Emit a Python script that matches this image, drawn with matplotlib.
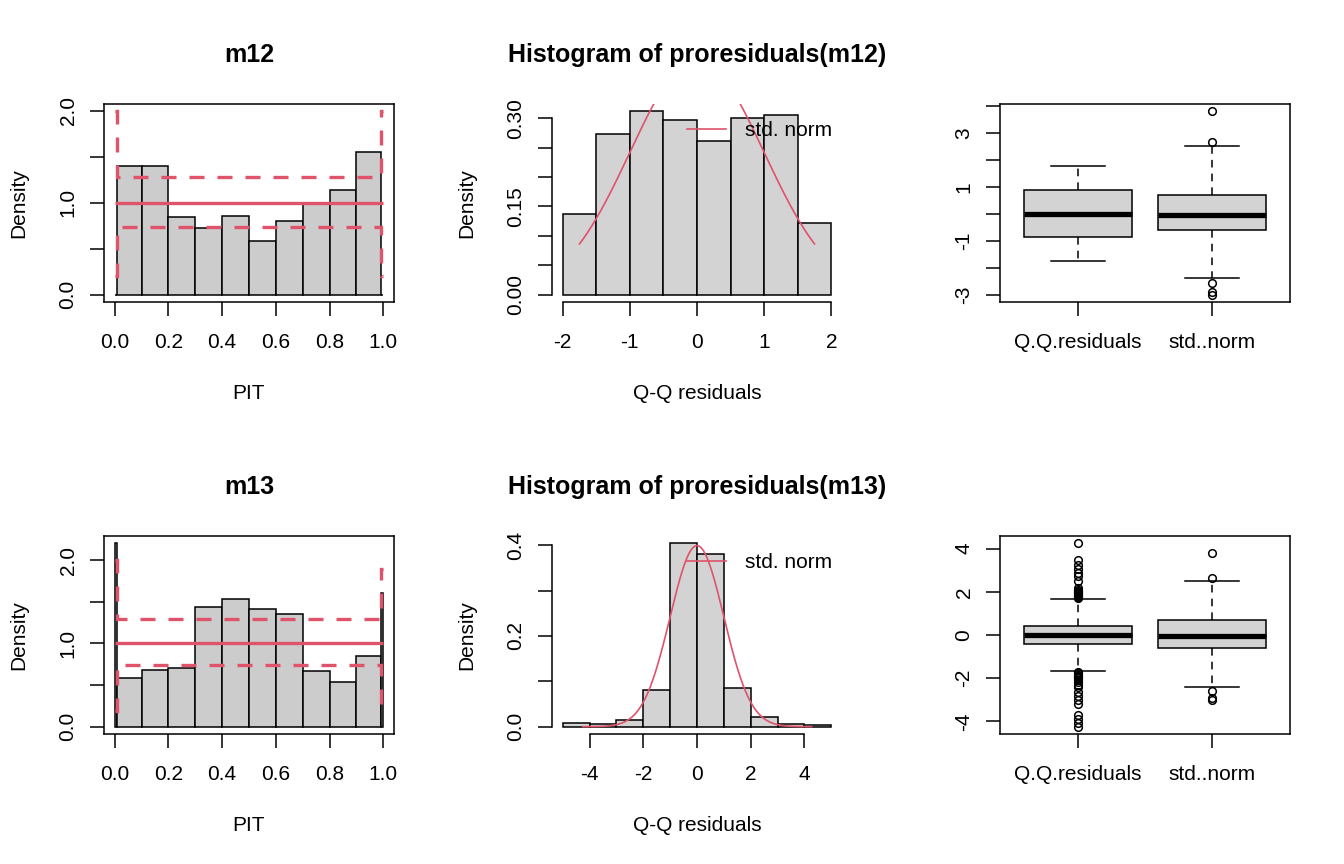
import numpy as np
import matplotlib
matplotlib.use('Agg')
from matplotlib import pyplot as plt
from matplotlib.lines import Line2D

plt.rcParams['font.family'] = ['Liberation Sans', 'DejaVu Sans']
plt.rcParams['axes.unicode_minus'] = False

RED = '#DF536B'

# PIT histograms (density per bin)
pit_breaks = [0.0, 0.01, 0.1, 0.2, 0.3, 0.4, 0.5, 0.6, 0.7, 0.8, 0.9, 0.99, 1.0]
m12_pit = [0.0, 1.40, 1.40, 0.84, 0.72, 0.86, 0.58, 0.80, 1.00, 1.14, 1.55, 0.0]
m12_ci_lo = [0.20, 0.74, 0.74, 0.74, 0.74, 0.74, 0.74, 0.74, 0.74, 0.74, 0.74, 0.20]
m12_ci_hi = [2.00, 1.28, 1.28, 1.28, 1.28, 1.28, 1.28, 1.28, 1.28, 1.28, 1.28, 2.00]
m13_pit = [2.21, 0.58, 0.68, 0.70, 1.44, 1.54, 1.42, 1.36, 0.665, 0.54, 0.85, 1.61]
m13_ci_lo = [0.19, 0.74, 0.74, 0.74, 0.74, 0.74, 0.74, 0.74, 0.74, 0.74, 0.74, 0.27]
m13_ci_hi = [2.00, 1.29, 1.29, 1.29, 1.29, 1.29, 1.29, 1.29, 1.29, 1.29, 1.29, 1.90]

# Q-Q residual histograms
m12_qq_breaks = [-2.0, -1.5, -1.0, -0.5, 0.0, 0.5, 1.0, 1.5, 2.0]
m12_qq_dens = [0.137, 0.273, 0.3125, 0.297, 0.261, 0.300, 0.305, 0.121]
m12_qq_range = (-1.75, 1.75)
m13_qq_breaks = [-5, -4, -3, -2, -1, 0, 1, 2, 3, 4, 5]
m13_qq_dens = [0.008, 0.006, 0.015, 0.081, 0.405, 0.380, 0.085, 0.021, 0.006, 0.003]
m13_qq_range = (-4.25, 4.27)

# boxplot summaries
box_names = ['Q.Q.residuals', 'std..norm']
norm_stats = dict(med=-0.03, q1=-0.61, q3=0.70, whislo=-2.40, whishi=2.51,
                  fliers=[3.82, 2.66, -2.58, -2.90, -3.00])
m12_qq_stats = dict(med=0.0, q1=-0.845, q3=0.885, whislo=-1.745, whishi=1.76, fliers=[])
m13_qq_stats = dict(med=0.0, q1=-0.43, q3=0.43, whislo=-1.65, whishi=1.67,
                    fliers=[1.72, 1.76, 1.80, 1.85, 1.90, 1.95, 2.00, 2.05, 2.10, 2.18,
                            2.52, 2.74, 2.87, 3.06, 3.26, 3.46, 4.27,
                            -1.72, -1.78, -1.85, -1.90, -1.95, -2.00, -2.10, -2.20, -2.30,
                            -2.40, -2.64, -2.84, -3.02, -3.22, -3.69, -3.88, -4.08, -4.25])

TICK_FS = 15
LAB_FS = 15


def rect(row, col):
    top = 432 * row + 103.5
    bot = 432 * row + 302
    return [(448 * col + 104) / 1344, 1 - bot / 864, 290 / 1344, (bot - top) / 864]


def rlim(lo, hi):
    d = (hi - lo) * 0.04
    return lo - d, hi + d


def style_axis(ax, xticks, xlabels, yticks, ylabels, xlabel='', ylabel=''):
    ax.set_xticks(xticks)
    ax.set_xticklabels(xlabels)
    ax.set_yticks(yticks)
    ax.set_yticklabels(ylabels)
    ax.tick_params(length=10, width=1.1, labelsize=TICK_FS, pad=12.5)
    ax.tick_params(axis='y', labelrotation=90, pad=9)
    for lab in ax.get_yticklabels():
        lab.set_va('center')
    for sp in ax.spines.values():
        sp.set_linewidth(1.1)
    if xlabel:
        ax.set_xlabel(xlabel, fontsize=LAB_FS)
        ax.xaxis.set_label_coords(0.5, -0.415)
    if ylabel:
        ax.set_ylabel(ylabel, fontsize=LAB_FS)
        ax.yaxis.set_label_coords(-0.262, 0.5)


def pit_panel(ax, title, dens, lo, hi):
    edges = np.array(pit_breaks)
    ax.bar(edges[:-1], dens, width=np.diff(edges), align='edge', color='#CCCCCC',
           edgecolor='black', linewidth=1.1)
    ax.stairs(np.ones(len(dens)), edges, baseline=None, color=RED, linewidth=2.4)
    for ci in (lo, hi):
        ax.stairs(ci, edges, baseline=None, color=RED, linewidth=2.4,
                  linestyle=(0, (4.5, 3.9)))
    ax.set_xlim(*rlim(0, 1))
    ax.set_ylim(*rlim(0, max(max(dens), max(hi))))
    style_axis(ax, [0, 0.2, 0.4, 0.6, 0.8, 1.0], ['0.0', '0.2', '0.4', '0.6', '0.8', '1.0'],
               [0, 0.5, 1.0, 1.5, 2.0], ['0.0', '', '1.0', '', '2.0'], 'PIT', 'Density')
    ax.set_title(title, fontsize=18, fontweight='bold', pad=30)


def qq_panel(ax, title, breaks, dens, rng, xticks, yticks, ylabels):
    edges = np.array(breaks, dtype=float)
    ax.bar(edges[:-1], dens, width=np.diff(edges), align='edge', color='#D3D3D3',
           edgecolor='black', linewidth=1.1)
    x = np.linspace(rng[0], rng[1], 300)
    ax.plot(x, np.exp(-x ** 2 / 2) / np.sqrt(2 * np.pi), color=RED, linewidth=1.2)
    ax.set_xlim(*rlim(edges[0], edges[-1]))
    ax.set_ylim(*rlim(0, max(dens)))
    for s in ('top', 'right'):
        ax.spines[s].set_visible(False)
    ax.spines['left'].set_bounds(yticks[0], yticks[-1])
    ax.spines['bottom'].set_bounds(xticks[0], xticks[-1])
    style_axis(ax, xticks, [str(t) for t in xticks], yticks, ylabels,
               'Q-Q residuals', 'Density')
    ax.legend(handles=[Line2D([], [], color=RED, linewidth=1.2)], labels=['std. norm'],
              loc='center left', bbox_to_anchor=(0.467, 0.865), frameon=False,
              borderpad=0, borderaxespad=0, handlelength=1.87, handletextpad=0.9,
              fontsize=LAB_FS)
    ax.set_title(title, fontsize=18, fontweight='bold', pad=30)


def box_panel(ax, qq_stats, yticks, ylabels):
    stats = [dict(qq_stats, label=box_names[0]), dict(norm_stats, label=box_names[1])]
    ax.bxp(stats, positions=[1, 2], widths=0.8, capwidths=0.4, patch_artist=True,
           boxprops=dict(facecolor='#D3D3D3', edgecolor='black', linewidth=1.1),
           medianprops=dict(color='black', linewidth=3.8, solid_capstyle='butt'),
           whiskerprops=dict(color='black', linewidth=1.1, linestyle=(0, (5, 4))),
           capprops=dict(color='black', linewidth=1.1),
           flierprops=dict(marker='o', markerfacecolor='none', markeredgecolor='black',
                           markersize=5.5, markeredgewidth=1.1))
    vals = []
    for s in stats:
        vals += [s['whislo'], s['whishi']] + list(s['fliers'])
    ax.set_xlim(*rlim(0.5, 2.5))
    ax.set_ylim(*rlim(min(vals), max(vals)))
    style_axis(ax, [1, 2], box_names, yticks, ylabels)


fig = plt.figure(figsize=(13.44, 8.64), dpi=100)

ax = fig.add_axes(rect(0, 0))
pit_panel(ax, 'm12', m12_pit, m12_ci_lo, m12_ci_hi)
ax = fig.add_axes(rect(0, 1))
qq_panel(ax, 'Histogram of proresiduals(m12)', m12_qq_breaks, m12_qq_dens, m12_qq_range,
         [-2, -1, 0, 1, 2], [0, 0.05, 0.10, 0.15, 0.20, 0.25, 0.30],
         ['0.00', '', '', '0.15', '', '', '0.30'])
ax = fig.add_axes(rect(0, 2))
box_panel(ax, m12_qq_stats, [-3, -2, -1, 0, 1, 2, 3, 4], ['-3', '', '-1', '', '1', '', '3', ''])

ax = fig.add_axes(rect(1, 0))
pit_panel(ax, 'm13', m13_pit, m13_ci_lo, m13_ci_hi)
ax = fig.add_axes(rect(1, 1))
qq_panel(ax, 'Histogram of proresiduals(m13)', m13_qq_breaks, m13_qq_dens, m13_qq_range,
         [-4, -2, 0, 2, 4], [0, 0.1, 0.2, 0.3, 0.4], ['0.0', '', '0.2', '', '0.4'])
ax = fig.add_axes(rect(1, 2))
box_panel(ax, m13_qq_stats, [-4, -2, 0, 2, 4], ['-4', '-2', '0', '2', '4'])

fig.savefig('out.png', dpi=100)
